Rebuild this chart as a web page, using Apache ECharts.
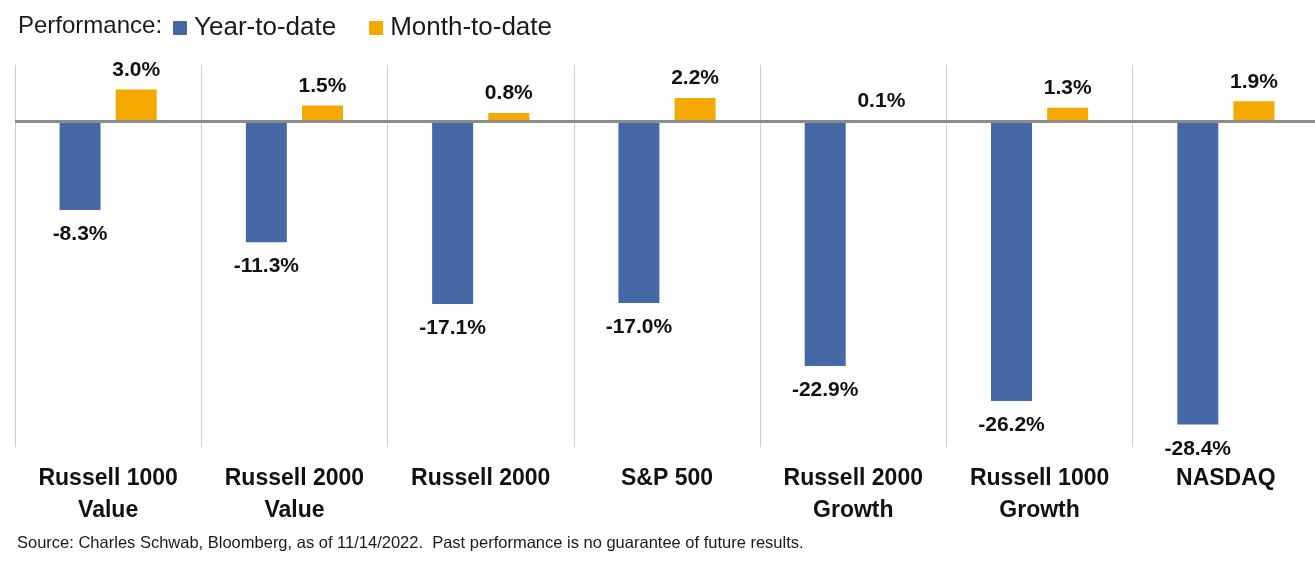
<!DOCTYPE html>
<html>
<head>
<meta charset="utf-8">
<script src="https://cdn.jsdelivr.net/npm/echarts@6/dist/echarts.min.js"></script>
<style>
html,body{margin:0;padding:0;background:#fff;overflow:hidden;}
#chart{width:1320px;height:563px;}
</style>
</head>
<body>
<div id="chart"></div>
<script>
const categories = ['Russell 1000\nValue', 'Russell 2000\nValue', 'Russell 2000', 'S&P 500', 'Russell 2000\nGrowth', 'Russell 1000\nGrowth', 'NASDAQ'];
const yearToDate = [-8.3, -11.3, -17.1, -17.0, -22.9, -26.2, -28.4];
const monthToDate = [3.0, 1.5, 0.8, 2.2, 0.1, 1.3, 1.9];
const seriesNames = ['Year-to-date', 'Month-to-date'];
const titleText = 'Performance:';
const footnote = 'Source: Charles Schwab, Bloomberg, as of 11/14/2022.  Past performance is no guarantee of future results.';

const FONT = '"Liberation Sans", Arial, sans-serif';
const BLUE = '#4669A6';
const ORANGE = '#F4A900';
const pct = p => p.value.toFixed(1) + '%';

const chart = echarts.init(document.getElementById('chart'), null, {renderer: 'canvas'});
chart.setOption({
  animation: false,
  backgroundColor: '#ffffff',
  title: {
    text: titleText,
    left: 13, top: 9,
    textStyle: {fontFamily: FONT, fontSize: 24, fontWeight: 'normal', color: '#1a1a1a'}
  },
  legend: {
    data: seriesNames,
    left: 168, top: 10,
    icon: 'rect',
    itemWidth: 14, itemHeight: 14,
    itemGap: 33,
    textStyle: {fontFamily: FONT, fontSize: 26, color: '#1a1a1a', padding: [0, 0, 0, 2]}
  },
  graphic: [{
    type: 'text',
    left: 17, top: 535,
    style: {text: footnote, fontFamily: FONT, fontSize: 16.5, fill: '#1a1a1a'}
  }],
  grid: {left: 15, right: 1, top: 65, bottom: 116, containLabel: false},
  xAxis: {
    type: 'category',
    data: categories,
    axisLine: {show: false},
    axisTick: {show: false},
    splitLine: {show: true, lineStyle: {color: '#cfcfcf', width: 1}},
    axisLabel: {
      interval: 0, margin: 16,
      fontFamily: FONT, fontSize: 23, fontWeight: 'bold', color: '#111', lineHeight: 32
    }
  },
  yAxis: {
    type: 'value',
    min: -30.5, max: 5.3,
    axisLine: {show: false}, axisTick: {show: false},
    axisLabel: {show: false}, splitLine: {show: false}
  },
  series: [
    {
      name: seriesNames[0], type: 'bar', data: yearToDate,
      barWidth: 41, barGap: '37%',
      itemStyle: {color: BLUE},
      label: {show: true, position: 'bottom', distance: 14, formatter: pct,
        fontFamily: FONT, fontSize: 21, fontWeight: 'bold', color: '#111'},
      markLine: {
        silent: true, symbol: 'none', z: 10,
        label: {show: false},
        lineStyle: {color: '#8c8c8c', width: 3, type: 'solid'},
        data: [{yAxis: 0}]
      }
    },
    {
      name: seriesNames[1], type: 'bar', data: monthToDate,
      barWidth: 41,
      itemStyle: {color: ORANGE},
      label: {show: true, position: 'top', distance: 9, formatter: pct,
        fontFamily: FONT, fontSize: 21, fontWeight: 'bold', color: '#111'}
    }
  ]
});
</script>
</body>
</html>
